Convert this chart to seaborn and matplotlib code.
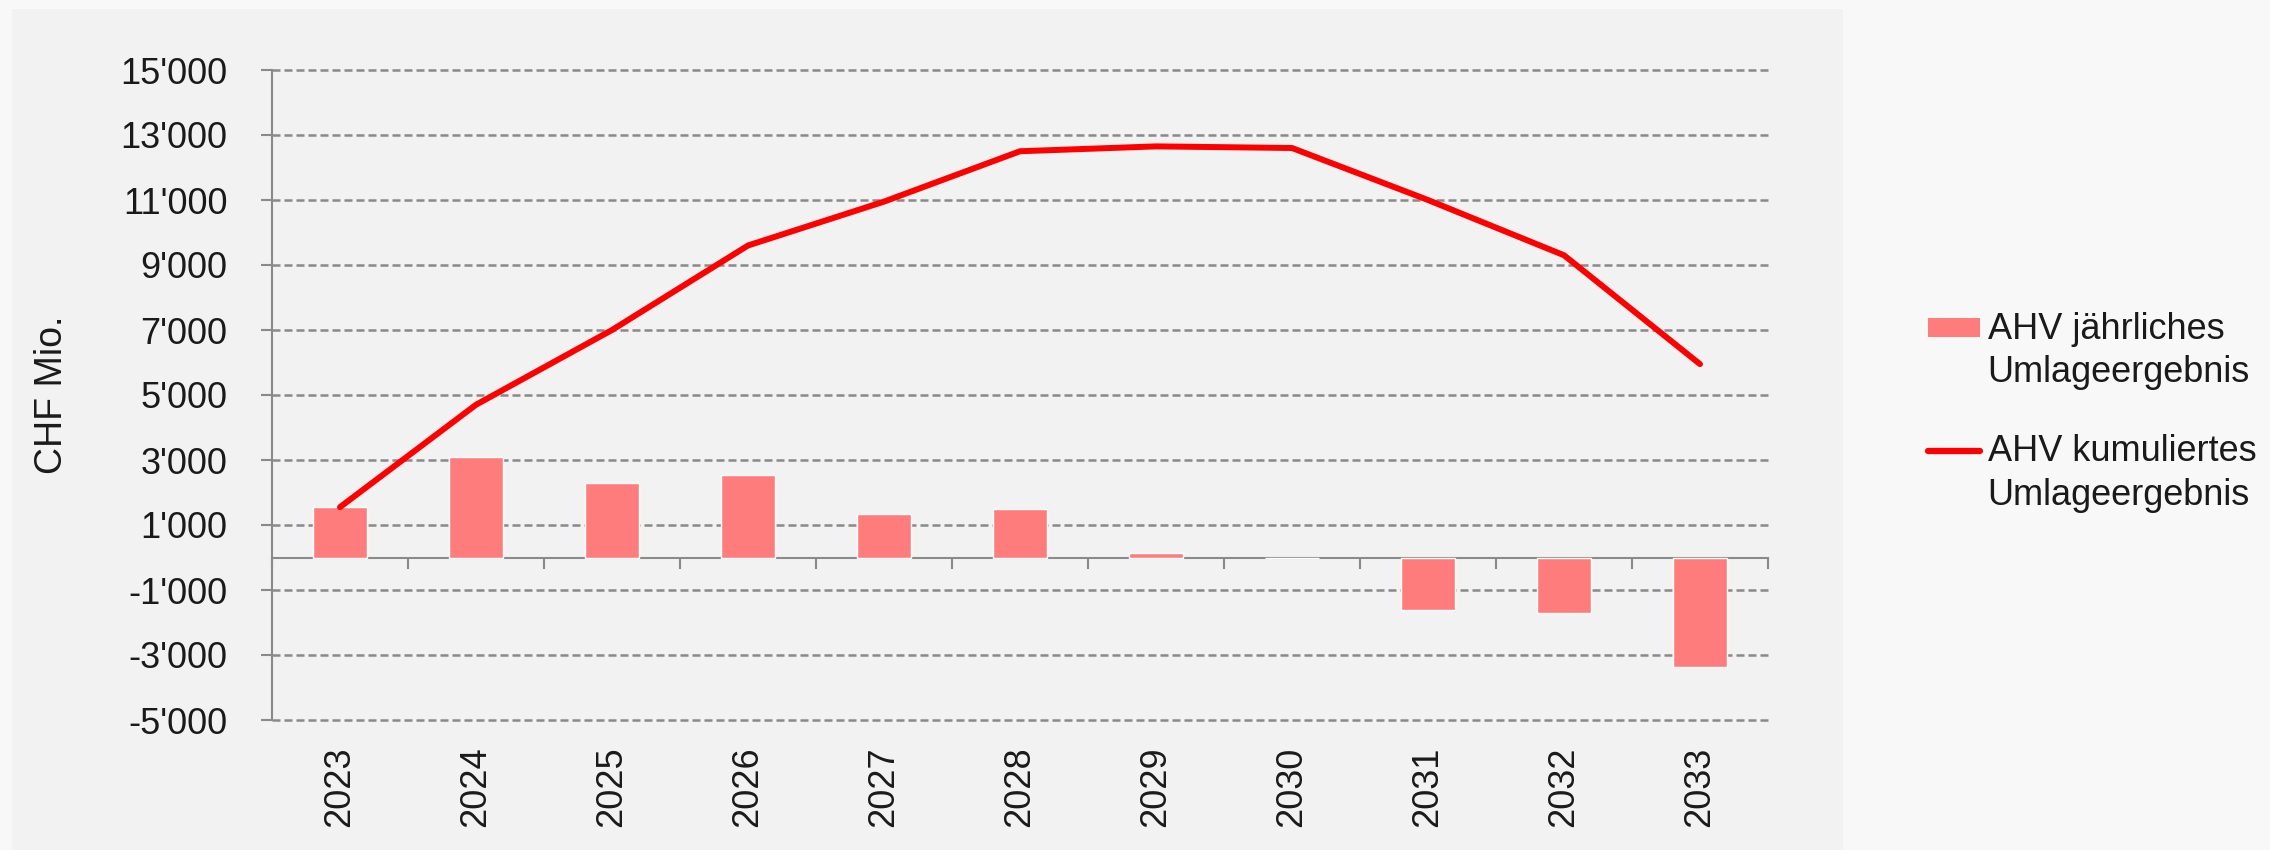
import numpy as np
import matplotlib
matplotlib.use('Agg')
import matplotlib.pyplot as plt
import seaborn as sns
from matplotlib.patches import Rectangle, Patch
from matplotlib.lines import Line2D
from matplotlib.legend_handler import HandlerBase
from matplotlib.ticker import FuncFormatter

# Daten (CHF Mio.)
jahre = ['2023', '2024', '2025', '2026', '2027', '2028', '2029', '2030', '2031', '2032', '2033']
jaehrlich = [1550, 3100, 2300, 2550, 1350, 1500, 140, -30, -1600, -1700, -3370]
kumuliert = [1550, 4700, 7000, 9600, 10950, 12500, 12650, 12600, 11000, 9300, 5950]
y_ticks = list(range(-5000, 15001, 2000))

label_bar = 'AHV jährliches\nUmlageergebnis'
label_line = 'AHV kumuliertes\nUmlageergebnis'

farbe_bar = '#ff7c7c'
farbe_line = '#ff0000'
grau = '#8a8a8a'
text_farbe = '#1a1a1a'

sns.set_theme(style='white')
plt.rcParams['font.family'] = ['Liberation Sans', 'DejaVu Sans']
plt.rcParams['text.color'] = text_farbe
plt.rcParams['axes.labelcolor'] = text_farbe
plt.rcParams['xtick.color'] = text_farbe
plt.rcParams['ytick.color'] = text_farbe

fig = plt.figure(figsize=(22.7, 8.5), dpi=100, facecolor='#f8f8f8')
# grauer Diagrammbereich
fig.patches.append(Rectangle((12 / 2270, 0), (1843 - 12) / 2270, (850 - 9) / 850,
                             transform=fig.transFigure, facecolor='#f2f2f2',
                             edgecolor='none', zorder=-1))

ax = fig.add_axes([272 / 2270, 130 / 850, (1768 - 272) / 2270, (780 - 130) / 850])
ax.set_facecolor('none')

sns.barplot(x=jahre, y=jaehrlich, color=farbe_bar, width=0.4, saturation=1, ax=ax, zorder=2)
sns.lineplot(x=np.arange(len(jahre)), y=kumuliert, color=farbe_line, linewidth=4.3, ax=ax, zorder=3)

ax.set_xlim(-0.5, len(jahre) - 0.5)
ax.set_ylim(y_ticks[0], y_ticks[-1])
ax.set_yticks(y_ticks)
ax.yaxis.set_major_formatter(FuncFormatter(lambda v, p: f'{int(v):,}'.replace(',', "'")))
ax.yaxis.grid(True, color=grau, linestyle=(0, (3.2, 1.6)), linewidth=1.8)
for gl in ax.get_ygridlines():
    gl.set_clip_on(False)
ax.set_axisbelow(True)

for s in ['top', 'right', 'bottom']:
    ax.spines[s].set_visible(False)
ax.spines['left'].set_color(grau)
ax.spines['left'].set_linewidth(1.5)

ax.tick_params(axis='y', left=True, length=8, width=1.5, color=grau, pad=24, labelsize=26)
ax.tick_params(axis='x', length=0, pad=19, labelsize=26, labelrotation=90)

# Nulllinie mit Kategoriengrenzen
sec = ax.secondary_xaxis(0, transform=ax.transData)
sec.set_xticks(np.arange(len(jahre) + 1) - 0.5)
sec.tick_params(axis='x', direction='out', length=8, width=1.5, color=grau, labelbottom=False)
sec.spines['bottom'].set_color(grau)
sec.spines['bottom'].set_linewidth(1.5)

ax.set_xlabel('')
ax.set_ylabel('CHF Mio.', fontsize=27)
ax.yaxis.set_label_coords(-0.135, 0.5)


# Legendensymbol auf Höhe der ersten Textzeile
class ErsteZeile(HandlerBase):
    def create_artists(self, legend, orig_handle, xdescent, ydescent, width, height, fontsize, trans):
        y = height / 2 - ydescent + 0.66 * fontsize
        if isinstance(orig_handle, Line2D):
            art = Line2D([-xdescent, width - xdescent], [y, y], color=farbe_line,
                         linewidth=4.5, solid_capstyle='round')
        else:
            h = 0.53 * fontsize
            art = Rectangle((-xdescent, y - h / 2), width, h, facecolor=farbe_bar, edgecolor='none')
        art.set_transform(trans)
        return [art]


handles = [Patch(facecolor=farbe_bar), Line2D([0], [0], color=farbe_line)]
leg = fig.legend(handles, [label_bar, label_line], loc='center left',
                 bbox_to_anchor=(1928 / 2270, 0.515), frameon=False, fontsize=26,
                 borderpad=0, borderaxespad=0, handlelength=1.45, handletextpad=0.2,
                 labelspacing=1.22, handler_map={Patch: ErsteZeile(), Line2D: ErsteZeile()})
for t in leg.get_texts():
    t.set_linespacing(1.32)

fig.savefig('out.png', dpi=100, facecolor=fig.get_facecolor())
